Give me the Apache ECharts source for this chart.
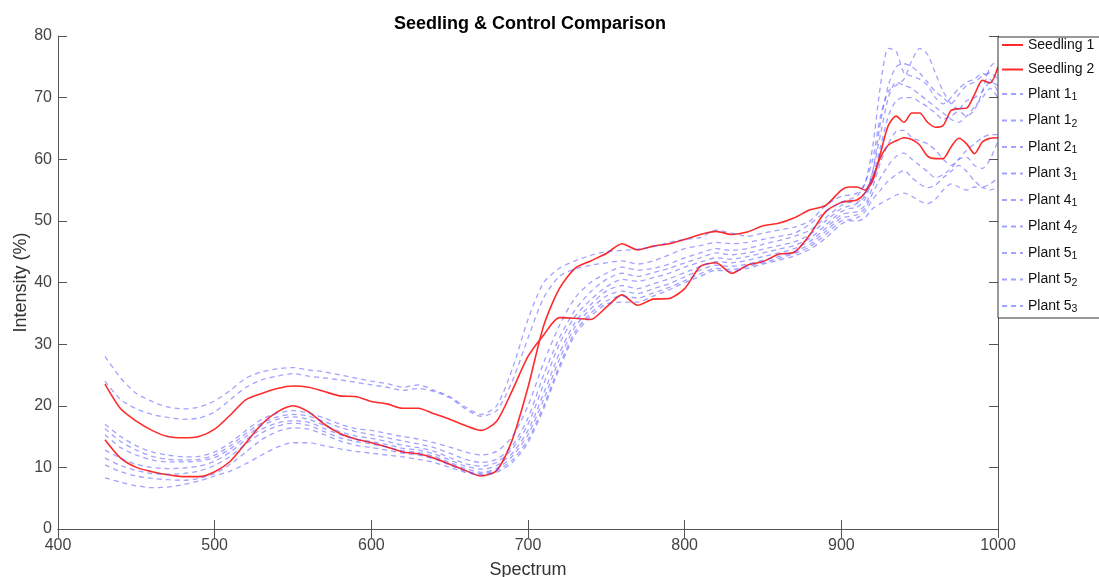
<!DOCTYPE html>
<html>
<head>
<meta charset="utf-8">
<script src="https://cdn.jsdelivr.net/npm/echarts@6/dist/echarts.min.js"></script>
<style>html,body{margin:0;padding:0;background:#fff}#c{width:1099px;height:577px}</style>
</head>
<body>
<div id="c"></div>
<script>
const wavelengths = [430,440,450,460,470,480,490,500,510,520,530,540,550,560,570,580,590,600,610,620,630,640,650,660,670,680,690,700,710,720,730,740,750,760,770,780,790,800,810,820,830,840,850,860,870,880,890,900,
905,910,915,920,925,930,935,940,945,950,955,960,965,970,975,980,985,990,995,1000];

const seedling1 = [23.5,19.5,17.5,16.0,15.0,14.8,15.0,16.2,18.5,21.0,22.0,22.8,23.2,23.0,22.3,21.6,21.5,20.7,20.3,19.6,19.6,18.7,17.8,16.8,16.0,17.5,22.5,28.0,31.5,34.3,34.2,34.0,36.0,38.0,36.3,37.3,37.4,39.0,42.6,43.2,41.5,42.8,43.4,44.6,44.9,47.8,51.5,53.0,
53.2,53.4,54.5,57,60.3,62.3,63,63.5,63.2,62.3,60.5,60.1,60.1,62,63.4,62.5,60.9,62.8,63.4,63.5];
const seedling2 = [14.5,11.5,10.0,9.3,8.8,8.5,8.5,9.3,11.0,14.0,17.0,19.0,20.0,19.0,17.0,15.5,14.6,14.0,13.3,12.5,12.2,11.5,10.5,9.5,8.6,9.5,14.5,23,33,39,42.3,43.5,44.7,46.3,45.3,45.9,46.3,47.0,47.8,48.3,47.8,48.2,49.2,49.6,50.5,51.8,52.5,55.0,
55.5,55.5,55.0,56.5,61,65.5,67,66,67.5,67.5,66,65.2,65.5,67.9,68.2,68.3,70.5,72.8,72.4,75];

const plant1_1 = [28,24.5,22,20.7,19.8,19.5,19.8,20.8,22.5,24.5,25.5,26,26.2,25.8,25.5,25,24.5,24,23.6,23,23.4,22.5,21.5,19.8,18.6,20,26,34,40,42.3,43.5,44.4,45,45.2,45.4,45.8,46.5,47,47.3,48.5,48,47.5,48,48.5,49,50,52.5,54,
54.2,54.5,56,62,72,78,77.5,74,73.5,73,72,70,69,70,71.5,72.5,73,74,73,71];
const plant1_2 = [24,21,19.5,18.6,18.1,17.8,18,19,21,23,24.2,24.8,25.2,24.8,24.5,24.2,23.8,23.4,23,22.5,22.8,22.3,21.3,19.5,18.3,19.2,24,31,37.5,41,42.2,42.8,43.2,43.5,43,43.5,44.5,45.5,46,46.5,46.3,46.5,47,47.5,48,49.5,51.5,53,
53.5,54,56,60,67,71,72,73,76,78,77,74,71,69,68,67,68,71,75,76];
const plant2_1 = [17,15,13.5,12.5,12,11.7,11.8,12.5,14,16,17.8,18.8,19.2,18.8,18,17,16.3,16,15.5,15,14.6,14,13.3,12.5,12,12.6,15,20,27,33,37.5,40,41.5,42.5,42,42.3,43,44,44.8,45.5,45.2,45.5,46.2,46.8,47.5,48.5,50.5,52.5,
53,53,54.5,58,66,72,75,75.5,75,74,72.5,71,70,69,70.5,72,72.5,73.5,74,73];
const plant3_1 = [16.3,14.2,12.8,11.8,11.3,11.2,11.3,12,13.5,15.5,17.2,18.2,18.6,18.3,17.4,16.5,15.8,15.3,14.8,14.3,13.8,13.2,12.3,11.3,10.8,11.3,13.5,18,25,31,35.5,38.5,40.5,41.5,41,41.6,42.3,43.2,44,44.8,44.5,44.8,45.4,46,46.6,47.8,50,52,
52.4,52.8,54,58,64,70,72.5,72,71.5,70.5,69.5,68.5,67.5,66.5,66,67,68.5,70,71.5,70];
const plant4_1 = [15.3,13.2,12,11.2,10.9,10.9,11,11.6,13,15,16.8,17.8,18.2,17.8,16.8,15.8,15.1,14.7,14.2,13.6,13.2,12.6,11.6,10.6,10.2,10.8,13,17,23.5,30,34.5,37.2,39.3,40.5,40.2,40.8,41.5,42.5,43.3,44,43.8,44.2,44.8,45.4,46,47.2,49.3,51.5,
52,52.2,53.5,57,62,67,69.5,70,70,69.3,68.5,67.5,66.5,67,68,69.5,70,71,72.5,72];
const plant4_2 = [12.8,11.5,10.5,10,9.8,9.9,10.2,11,12.5,14.5,16.2,17.2,17.6,17.3,16.3,15.3,14.6,14.2,13.7,13.1,12.8,12.2,11.2,10.2,9.7,10.3,12.3,16,22,28.5,33.5,36.4,38.6,39.5,39,39.8,40.6,41.6,42.6,43.4,43.2,43.6,44.2,44.8,45.5,46.7,48.8,51,
51.3,51.5,52.5,55.5,59.5,62.5,64.5,64.7,63.5,63,62.5,61.5,60,59,60,61.5,62.5,63.5,64,64];
const plant5_1 = [11.5,10.3,9.5,9,8.9,9,9.4,10.3,11.8,13.8,15.6,16.7,17.2,16.8,15.8,14.8,14.2,13.8,13.3,12.7,12.4,11.8,10.8,9.8,9.2,9.8,11.8,15.3,21,27.5,32.8,35.7,37.8,38.6,38.2,39,39.8,40.9,42,42.8,42.6,43,43.6,44.2,45,46.2,48.3,50.5,
50.7,51,52,54.5,57,59,60.5,61,60,59,58,57,57.5,58.5,60,60.3,59,58.5,60,63];
const plant5_2 = [10.4,9.3,8.6,8.2,8,7.9,8.2,9,10.5,12.5,14.5,15.8,16.4,16.2,15.3,14.3,13.6,13.2,12.8,12.3,12,11.4,10.4,9.4,9,9.5,11.2,14.5,20,26.5,32,35,37,37.8,37.5,38.3,39.2,40.3,41.4,42.3,42.1,42.6,43.2,43.9,44.7,45.8,47.8,50,
50.2,50.5,51.5,53.5,55,56.5,57.5,58.2,57,56,55.4,55.8,57,58,59,58,56.5,55.5,56,57];
const plant5_3 = [8.3,7.6,7,6.7,6.8,7.2,7.8,8.6,9.4,10.6,12,13.3,14,14,13.5,13,12.6,12.3,12,11.7,11.3,10.8,10,9.2,8.8,9.2,10.8,14,19.5,26,31.5,34.5,36.5,36.8,36.8,37.8,38.8,40,41,42,41.8,42.3,43,43.6,44.3,45.4,47.2,49.5,
50,50,50.5,52,52.8,53.5,54.2,54.5,54,53.2,52.8,53.5,55,56,55.5,55,55.5,55.4,55,55.5];

const seedlingNames = ['Seedling 1','Seedling 2'];
const seedlingData = [seedling1, seedling2];
const plantBase = ['Plant 1','Plant 1','Plant 2','Plant 3','Plant 4','Plant 4','Plant 5','Plant 5','Plant 5'];
const plantSub = ['1','2','1','1','1','2','1','2','3'];
const plantData = [plant1_1,plant1_2,plant2_1,plant3_1,plant4_1,plant4_2,plant5_1,plant5_2,plant5_3];

const xTicks = {min:400, max:1000, interval:100};
const yTicks = {min:0, max:80, interval:10};

const FONT = "'Liberation Sans', Arial, sans-serif";
const series = [];
const subMap = {};
seedlingNames.forEach((n,k)=>{
  series.push({name:n, type:'line', symbol:'none', showSymbol:false, smooth:0.25,
    data: wavelengths.map((w,i)=>[w, seedlingData[k][i]]),
    lineStyle:{color:'#ff2a2a', width:1.6}, itemStyle:{color:'#ff2a2a'}});
});
plantData.forEach((arr,k)=>{
  const name = plantBase[k]+'_'+plantSub[k];
  subMap[name] = [plantBase[k], plantSub[k]];
  series.push({name:name, type:'line', symbol:'none', showSymbol:false, smooth:0.25,
    data: wavelengths.map((w,i)=>[w, arr[i]]),
    lineStyle:{color:'rgba(70,70,255,0.5)', width:1.3, type:[5,4]}, itemStyle:{color:'rgba(70,70,255,0.5)'}});
});

const axisColor = '#555';
const chart = echarts.init(document.getElementById('c'), null, {renderer:'canvas'});
chart.setOption({
  animation:false,
  backgroundColor:'#fff',
  title:{text:'Seedling & Control Comparison', left:525, textAlign:'center', top:10,
    textStyle:{fontFamily:FONT, fontSize:18, fontWeight:'bold', color:'#000'}},
  grid:{left:58, right:101, top:36, bottom:48, outerBoundsMode:'none', containLabel:false},
  legend:{orient:'vertical', left:998, top:37, itemWidth:21, itemHeight:14, itemGap:10.5,
    padding:[1,14,3,3], borderColor:'#333', borderWidth:1, backgroundColor:'#fff',
    itemStyle:{opacity:0},
    data: series.map(s=>s.name),
    formatter: function(name){
      if (subMap[name]) return '{n|'+subMap[name][0]+'}{s|'+subMap[name][1]+'}';
      return '{n|'+name+'}';
    },
    textStyle:{fontFamily:FONT, color:'#111', fontSize:14,
      rich:{n:{fontFamily:FONT, fontSize:14, color:'#111', lineHeight:18, verticalAlign:'middle'},
            s:{fontFamily:FONT, fontSize:10.5, color:'#111', lineHeight:8, verticalAlign:'bottom'}}}
  },
  xAxis:[
    {type:'value', min:xTicks.min, max:xTicks.max, interval:xTicks.interval, position:'bottom',
     name:'Spectrum', nameLocation:'middle', nameGap:32,
     nameTextStyle:{fontFamily:FONT, fontSize:18, color:'#333'},
     axisLine:{show:true, lineStyle:{color:axisColor, width:1}},
     axisTick:{show:true, inside:true, length:9, lineStyle:{color:axisColor}},
     axisLabel:{fontFamily:FONT, fontSize:16, color:'#444', margin:9, formatter:v=>String(v)},
     splitLine:{show:false}},
    {type:'value', min:xTicks.min, max:xTicks.max, interval:xTicks.interval, position:'top',
     axisLine:{show:true, lineStyle:{color:axisColor, width:1}},
     axisTick:{show:true, inside:true, length:9, lineStyle:{color:axisColor}},
     axisLabel:{show:false}, splitLine:{show:false}}
  ],
  yAxis:[
    {type:'value', min:yTicks.min, max:yTicks.max, interval:yTicks.interval, position:'left',
     name:'Intensity (%)', nameLocation:'middle', nameGap:28, nameMoveOverlap:false,
     nameTextStyle:{fontFamily:FONT, fontSize:18, color:'#333'},
     axisLine:{show:true, lineStyle:{color:axisColor, width:1}},
     axisTick:{show:true, inside:true, length:9, lineStyle:{color:axisColor}},
     axisLabel:{fontFamily:FONT, fontSize:16, color:'#444', margin:6},
     splitLine:{show:false}},
    {type:'value', min:yTicks.min, max:yTicks.max, interval:yTicks.interval, position:'right',
     axisLine:{show:true, lineStyle:{color:axisColor, width:1}},
     axisTick:{show:true, inside:true, length:9, lineStyle:{color:axisColor}},
     axisLabel:{show:false}, splitLine:{show:false}}
  ],
  series: series
});
</script>
</body>
</html>
